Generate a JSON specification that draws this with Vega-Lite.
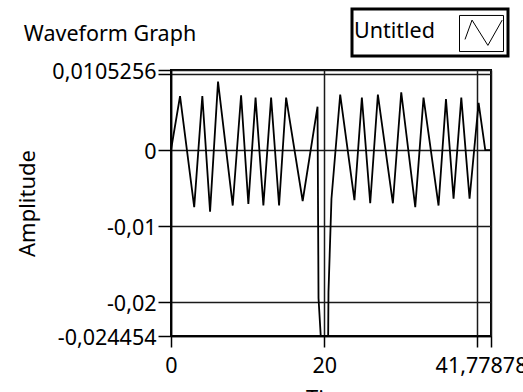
{
  "$schema": "https://vega.github.io/schema/vega-lite/v6.json",
  "width": 320,
  "height": 266,
  "autosize": "none",
  "padding": {"left": 171, "top": 70, "right": 32, "bottom": 56},
  "background": "white",
  "title": {
    "text": "Waveform Graph",
    "anchor": "start",
    "frame": "bounds",
    "font": "Noto Sans",
    "fontSize": 21.5,
    "fontWeight": "normal",
    "color": "black",
    "baseline": "alphabetic",
    "offset": 0,
    "dx": 7,
    "dy": 55
  },
  "data": {
    "values": [
      {"t": 0, "a": 0},
      {"t": 1.18, "a": 0.0071},
      {"t": 3.03, "a": -0.0075},
      {"t": 4.09, "a": 0.0071},
      {"t": 5.10, "a": -0.0081},
      {"t": 6.14, "a": 0.0090},
      {"t": 8.06, "a": -0.0073},
      {"t": 9.15, "a": 0.0072},
      {"t": 10.10, "a": -0.0071},
      {"t": 11.04, "a": 0.0069},
      {"t": 12.06, "a": -0.0073},
      {"t": 13.07, "a": 0.0069},
      {"t": 14.11, "a": -0.0073},
      {"t": 15.03, "a": 0.0069},
      {"t": 17.19, "a": -0.0067},
      {"t": 19.13, "a": 0.0057},
      {"t": 19.26, "a": -0.0195},
      {"t": 19.55, "a": -0.024454},
      {"t": 20.52, "a": -0.024454},
      {"t": 20.56, "a": -0.0187},
      {"t": 20.95, "a": -0.0064},
      {"t": 22.09, "a": 0.0073},
      {"t": 23.95, "a": -0.0066},
      {"t": 24.92, "a": 0.0069},
      {"t": 26.01, "a": -0.0070},
      {"t": 27.01, "a": 0.0073},
      {"t": 28.97, "a": -0.0070},
      {"t": 30.06, "a": 0.0076},
      {"t": 31.89, "a": -0.0075},
      {"t": 32.97, "a": 0.0069},
      {"t": 34.93, "a": -0.0073},
      {"t": 35.90, "a": 0.0067},
      {"t": 36.89, "a": -0.0064},
      {"t": 37.90, "a": 0.0069},
      {"t": 38.98, "a": -0.0064},
      {"t": 40.16, "a": 0.0062},
      {"t": 41.03, "a": 0},
      {"t": 41.77878, "a": 0}
    ]
  },
  "mark": {"type": "line", "strokeWidth": 1.8, "clip": true},
  "encoding": {
    "x": {
      "field": "t",
      "type": "quantitative",
      "scale": {"domain": [0, 41.77878], "nice": false, "zero": false},
      "axis": {
        "values": [0, 20, 40, 41.77878],
        "labelExpr": "datum.value == 40 ? '' : replace(toString(datum.value), '.', ',')",
        "title": "Time",
        "tickSize": 11,
        "labelPadding": 8,
        "titlePadding": 12,
        "labelOffset": {"condition": {"test": "datum.value > 41", "value": -10}, "value": 0},
        "labelFlush": false,
        "labelOverlap": false,
        "labelBound": false
      }
    },
    "y": {
      "field": "a",
      "type": "quantitative",
      "scale": {"domain": [-0.024454, 0.0105256], "nice": false, "zero": false},
      "axis": {
        "values": [-0.024454, -0.02, -0.01, 0, 0.01, 0.0105256],
        "labelExpr": "datum.value == 0.01 ? '' : replace(toString(datum.value), '.', ',')",
        "title": "Amplitude",
        "tickSize": 13,
        "labelPadding": 2,
        "labelOffset": 2,
        "titlePadding": 12,
        "labelFlush": false,
        "labelOverlap": false,
        "labelBound": false
      }
    },
    "color": {
      "datum": "Untitled",
      "type": "nominal",
      "scale": {"range": ["#000000"]},
      "legend": {
        "orient": "none",
        "legendX": 181,
        "legendY": -61,
        "title": "Untitled",
        "titleOrient": "left",
        "titleFont": "Noto Sans",
        "titleFontSize": 21.5,
        "titleFontWeight": "normal",
        "titleColor": "black",
        "titleBaseline": "middle",
        "titlePadding": 24,
        "labelExpr": "''",
        "labelOffset": 0,
        "symbolType": "M-1,-0.82H1V0.82H-1Z M-0.75,0.27L-0.43,-0.61L0.29,0.54L0.94,-0.61",
        "symbolSize": 1936,
        "symbolStrokeWidth": 1,
        "symbolStrokeColor": "#222222",
        "symbolFillColor": "transparent",
        "strokeColor": "black",
        "fillColor": "white",
        "padding": 2,
        "encode": {"legend": {"update": {"strokeWidth": {"value": 3}}}}
      }
    }
  },
  "config": {
    "font": "Noto Sans",
    "view": {"stroke": "black", "strokeWidth": 2},
    "axis": {
      "labelFont": "Noto Sans",
      "labelFontSize": 21.5,
      "labelColor": "black",
      "titleFont": "Noto Sans",
      "titleFontSize": 22,
      "titleFontWeight": "normal",
      "titleColor": "black",
      "gridColor": "#1a1a1a",
      "gridWidth": 1.5,
      "gridOpacity": 1,
      "domainColor": "black",
      "domainWidth": 1.5,
      "tickColor": "black",
      "tickWidth": 1.5
    }
  }
}
